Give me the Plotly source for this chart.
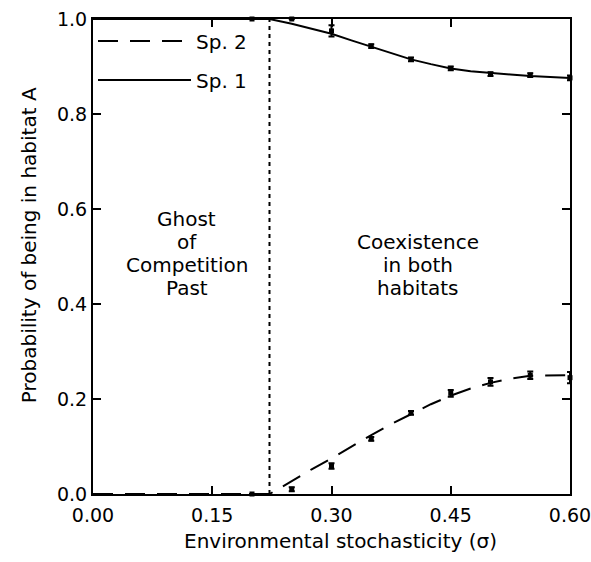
import plotly.graph_objects as go

# Fitted (analytical) curves
curve_x = [0.0, 0.05, 0.10, 0.15, 0.20, 0.222, 0.25, 0.275, 0.30, 0.325, 0.35, 0.375,
           0.40, 0.425, 0.45, 0.475, 0.50, 0.525, 0.55, 0.575, 0.60]
sp1_curve = [1.0, 1.0, 1.0, 1.0, 1.0, 1.0, 0.990, 0.980, 0.969, 0.955, 0.942, 0.928,
             0.915, 0.905, 0.896, 0.890, 0.886, 0.883, 0.880, 0.878, 0.876]
sp2_curve = [0.0, 0.0, 0.0, 0.0, 0.0, 0.0, 0.027, 0.052, 0.075, 0.100, 0.124, 0.147,
             0.168, 0.189, 0.207, 0.222, 0.234, 0.243, 0.249, 0.250, 0.250]

# Simulation points with error bars
pts_x = [0.20, 0.25, 0.30, 0.35, 0.40, 0.45, 0.50, 0.55, 0.60]
sp1_pts = [1.0, 1.0, 0.975, 0.943, 0.915, 0.896, 0.884, 0.882, 0.876]
sp1_err = [0.0, 0.0, 0.012, 0.004, 0.004, 0.004, 0.004, 0.004, 0.005]
sp2_pts = [0.0, 0.010, 0.059, 0.116, 0.171, 0.212, 0.236, 0.250, 0.245]
sp2_err = [0.0, 0.004, 0.006, 0.004, 0.004, 0.007, 0.008, 0.008, 0.012]

boundary_x = 0.222

x_ticks = [0.0, 0.15, 0.30, 0.45, 0.60]
x_ticklabels = ["0.00", "0.15", "0.30", "0.45", "0.60"]
y_ticks = [0.0, 0.2, 0.4, 0.6, 0.8, 1.0]
y_ticklabels = ["0.0", "0.2", "0.4", "0.6", "0.8", "1.0"]

ghost_lines = ["Ghost", "of", "Competition", "Past"]
ghost_y = [0.579, 0.531, 0.482, 0.434]
coex_lines = ["Coexistence", "in both", "habitats"]
coex_y = [0.531, 0.482, 0.434]

FONT = "DejaVu Sans, Liberation Sans, Arial, sans-serif"
FS = 20
TFS = 19

fig = go.Figure()

fig.add_trace(go.Scatter(
    x=curve_x, y=sp2_curve, mode="lines", name="Sp. 2",
    line=dict(color="black", width=2, dash="20px,12px"),
    legendgroup="g2", cliponaxis=False))
fig.add_trace(go.Scatter(
    x=curve_x, y=sp1_curve, mode="lines", name="Sp. 1",
    line=dict(color="black", width=2),
    legendgroup="g1", cliponaxis=False))

for ys, es in [(sp1_pts, sp1_err), (sp2_pts, sp2_err)]:
    fig.add_trace(go.Scatter(
        x=pts_x, y=ys, mode="markers", showlegend=False,
        marker=dict(symbol="square", size=5, color="black"),
        error_y=dict(type="data", array=es, visible=True, color="black",
                     thickness=2, width=3),
        cliponaxis=False))

# vertical dotted boundary
fig.add_trace(go.Scatter(
    x=[boundary_x, boundary_x], y=[0, 1], mode="lines", showlegend=False,
    line=dict(color="black", width=2, dash="4px,4px")))

for txt, yv in zip(ghost_lines, ghost_y):
    fig.add_annotation(x=0.118, y=yv, xref="x", yref="y", text=txt, showarrow=False,
                       xanchor="center", yanchor="middle",
                       font=dict(family=FONT, size=FS, color="black"))
for txt, yv in zip(coex_lines, coex_y):
    fig.add_annotation(x=0.409, y=yv, xref="x", yref="y", text=txt, showarrow=False,
                       xanchor="center", yanchor="middle",
                       font=dict(family=FONT, size=FS, color="black"))

# axis titles
fig.add_annotation(x=-0.134, y=0.524, xref="paper", yref="paper", textangle=-90,
                   xanchor="center", yanchor="middle",
                   text="Probability of being in habitat A", showarrow=False,
                   font=dict(family=FONT, size=FS, color="black"))
fig.add_annotation(x=0.518, y=-0.099, xref="paper", yref="paper",
                   xanchor="center", yanchor="middle",
                   text="Environmental stochasticity (σ)", showarrow=False,
                   font=dict(family=FONT, size=FS, color="black"))

axis_common = dict(showline=True, linecolor="black", linewidth=2, mirror="ticks",
                   ticks="inside", ticklen=8, tickwidth=2, tickcolor="black",
                   showgrid=False, zeroline=False, automargin=False,
                   ticklabeloverflow="allow",
                   tickfont=dict(family=FONT, size=TFS, color="black"))

fig.update_xaxes(range=[0, 0.6], tickvals=x_ticks, ticktext=x_ticklabels,
                 ticklabelstandoff=3, **axis_common)
fig.update_yaxes(range=[0, 1.0], tickvals=y_ticks, ticktext=y_ticklabels,
                 **axis_common)

fig.update_layout(
    width=591, height=562,
    margin=dict(l=93, r=21, t=19, b=68),
    plot_bgcolor="white", paper_bgcolor="white",
    font=dict(family=FONT, color="black"),
    legend=dict(x=0.0, y=0.995, xanchor="left", yanchor="top",
                bgcolor="rgba(0,0,0,0)", itemwidth=93, tracegroupgap=10,
                font=dict(family=FONT, size=FS, color="black")),
)

fig.write_html("out.html")
